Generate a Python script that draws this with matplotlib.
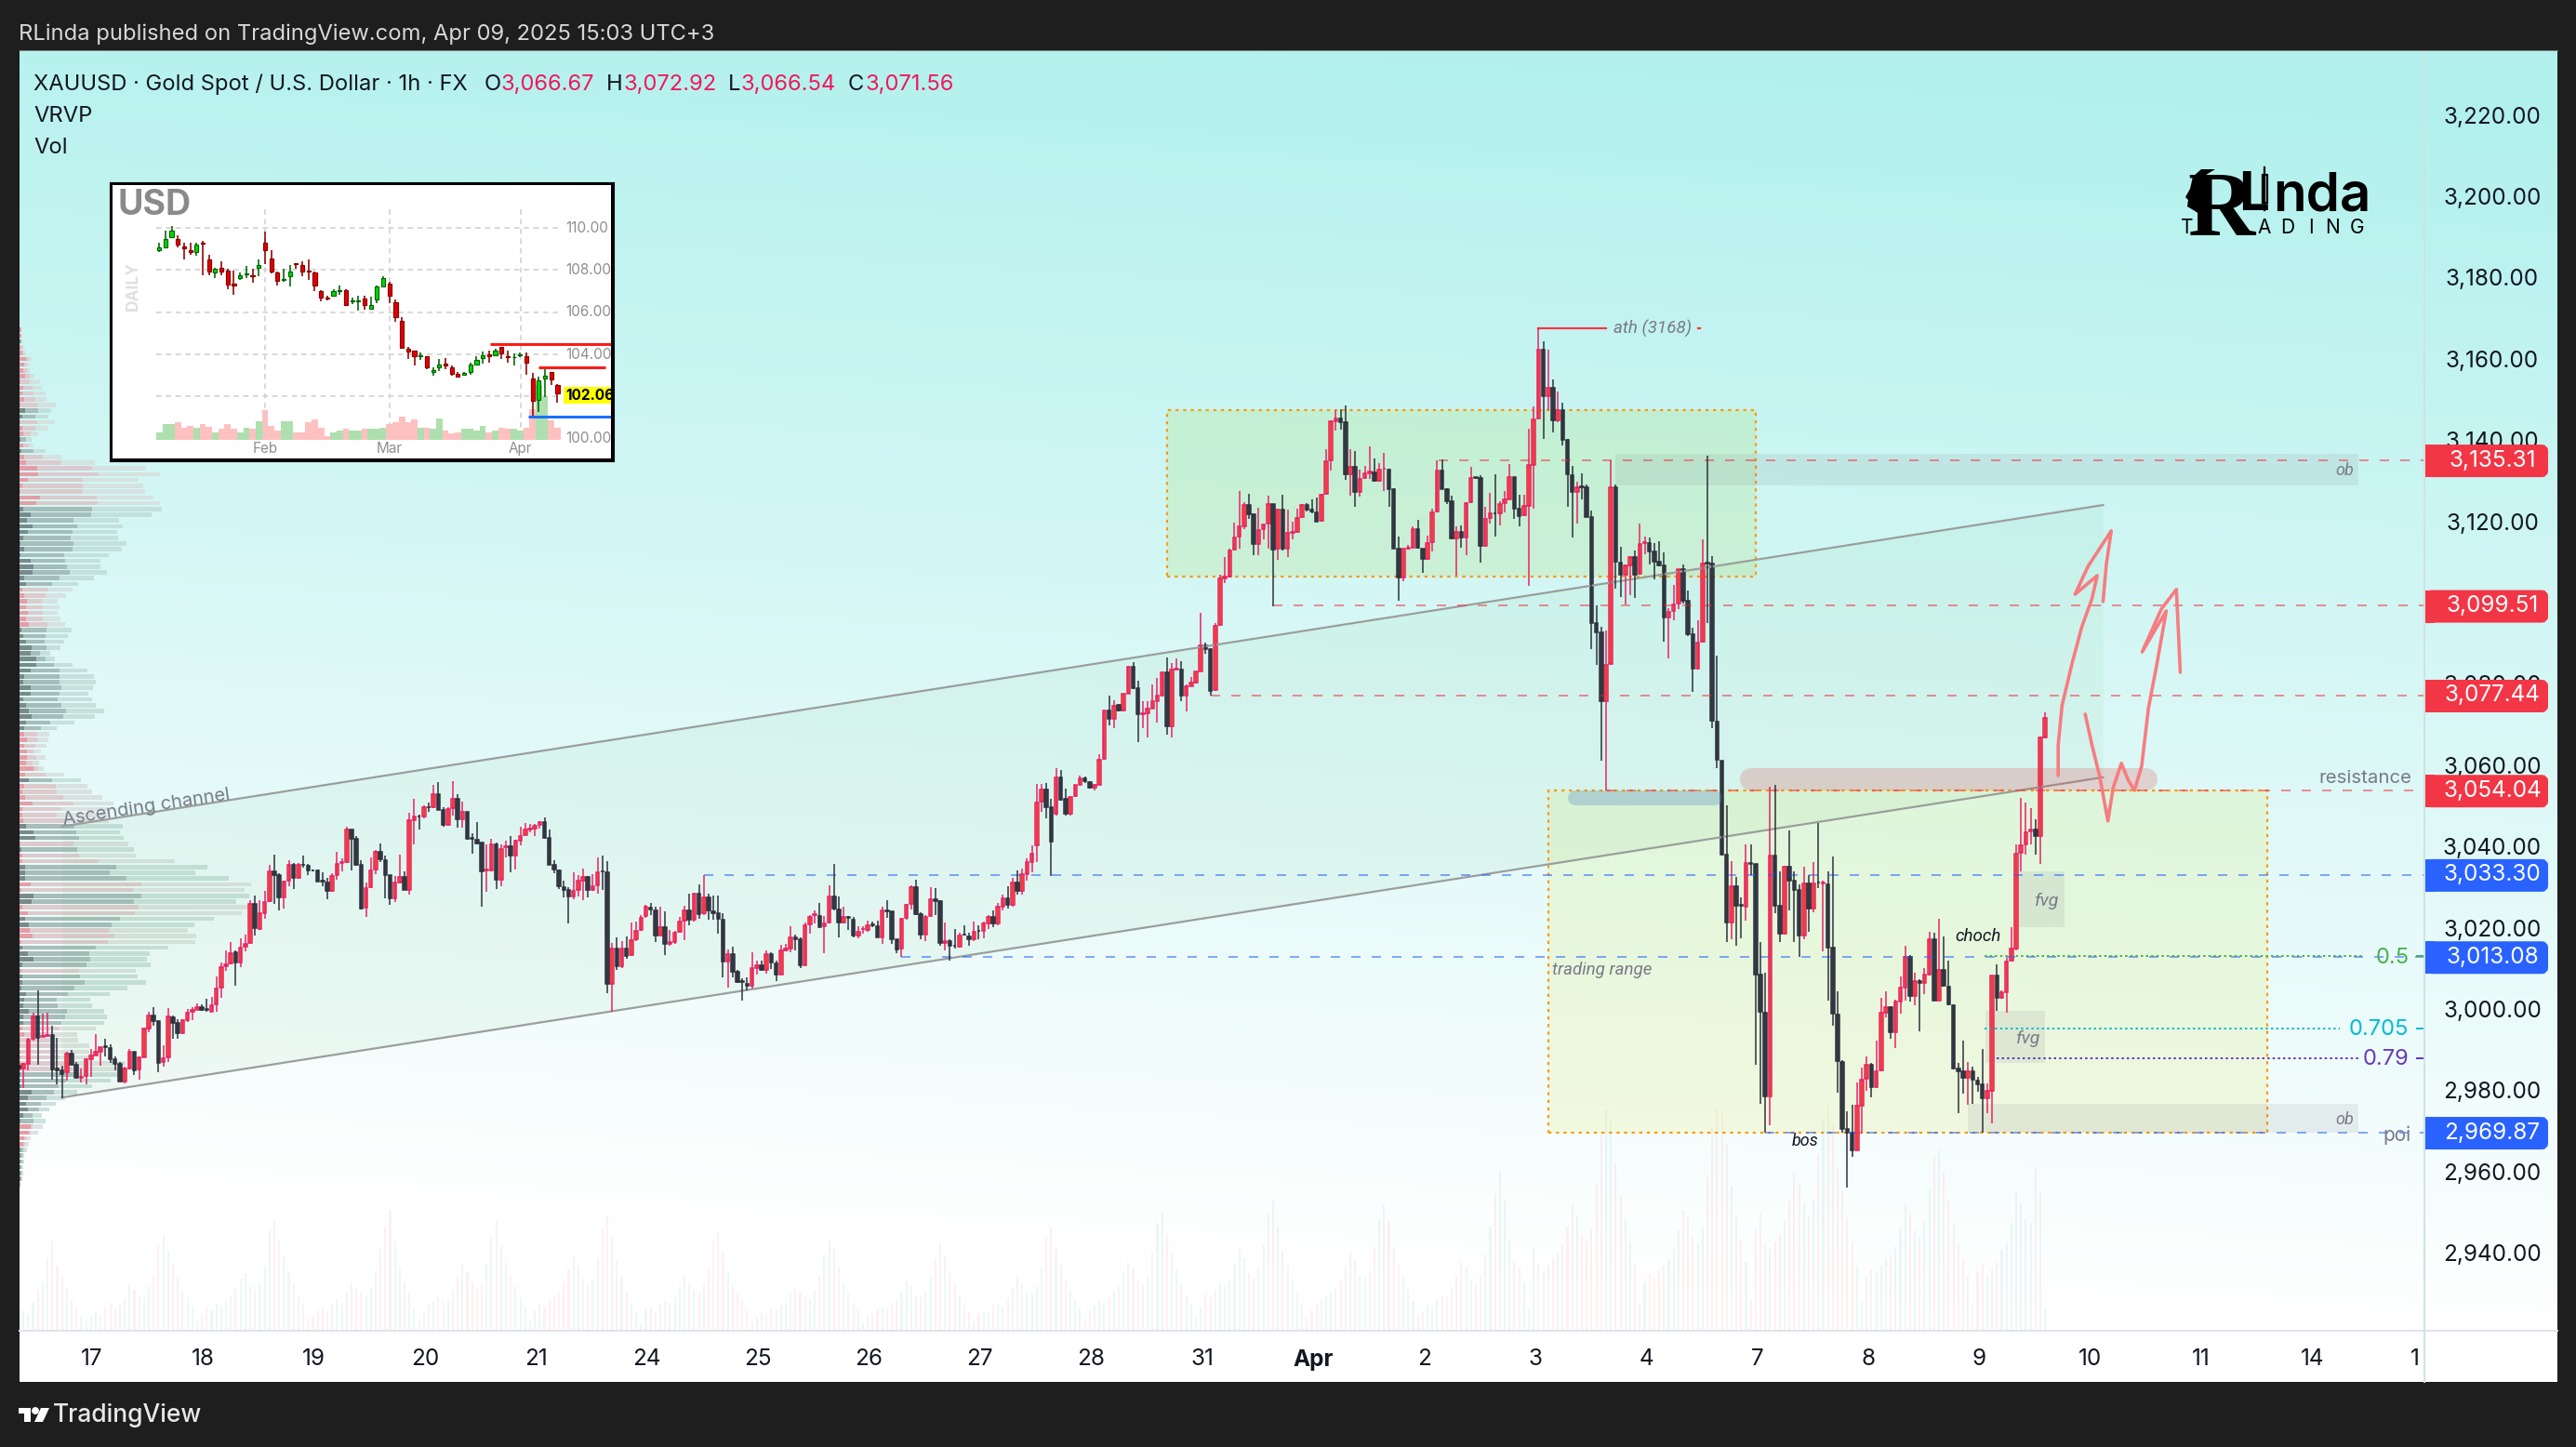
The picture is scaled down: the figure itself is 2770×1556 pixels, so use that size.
import numpy as np
import matplotlib
matplotlib.use("Agg")
import matplotlib.pyplot as plt
from matplotlib.colors import to_rgba
from matplotlib.patches import Rectangle, FancyBboxPatch, Polygon

W, H = 2770, 1556
plt.rcParams["font.family"] = ["Inter", "DejaVu Sans"]

# ── XAUUSD 1h candles ─────────────────────────────────────────────────────────
opens = [
    2985.9,2985.1,2986.4,2992.4,2998.1,2992.9,2993.1,2993.4,2985.1,2984.7,2984.2,2988.8,2986.1,2982.8,2983.4,2987.4,2988.4,2989.2,2990.7,2990.2,
    2987.4,2986.4,2981.9,2985.3,2989.2,2985.0,2988.0,2995.0,2998.3,2996.8,2986.7,2987.9,2997.8,2996.3,2993.9,2997.2,2999.1,2999.6,3000.4,2999.8,
    2999.1,3001.0,3005.2,3010.3,3011.1,3013.8,3011.3,3015.1,3016.1,3025.8,3019.5,3023.5,3026.3,3033.6,3032.7,3027.4,3031.4,3035.2,3032.1,3035.3,
    3035.0,3034.0,3033.9,3031.3,3030.9,3028.8,3032.7,3035.8,3035.9,3043.9,3041.7,3035.2,3024.8,3029.8,3034.2,3038.4,3036.5,3032.7,3027.1,3030.9,
    3032.4,3029.2,3046.3,3047.3,3047.1,3049.6,3049.5,3052.6,3048.9,3045.1,3049.2,3051.6,3046.6,3048.3,3041.9,3041.4,3040.7,3033.9,3033.9,3040.3,3031.7,
    3039.6,3039.9,3037.7,3041.3,3042.7,3044.1,3044.3,3045.1,3045.8,3042.0,3035.2,3034.0,3029.9,3029.1,3027.5,3029.1,3031.5,3032.3,3029.1,3030.3,
    3033.8,3033.4,3005.9,3014.7,3010.3,3014.6,3013.1,3017.0,3019.3,3022.7,3024.8,3024.2,3017.9,3020.0,3015.8,3016.3,3018.9,3021.6,3024.2,3021.8,
    3028.1,3023.3,3027.3,3023.9,3023.3,3021.9,3011.5,3013.4,3009.1,3006.6,3005.9,3005.6,3010.0,3010.6,3009.5,3013.3,3011.1,3008.4,3014.3,3014.6,
    3017.4,3017.1,3010.5,3020.7,3022.9,3022.7,3020.2,3021.1,3027.6,3024.4,3021.1,3022.6,3021.9,3017.9,3019.4,3019.3,3020.7,3020.3,3017.4,3024.1,
    3023.8,3016.9,3014.7,3022.2,3025.6,3029.7,3023.1,3018.1,3022.7,3026.9,3026.3,3016.1,3016.6,3015.5,3015.2,3018.2,3017.6,3016.9,3019.1,3019.0,
    3021.0,3022.5,3021.0,3025.0,3027.0,3025.5,3031.0,3029.0,3033.0,3036.0,
    3040.0,3050.8,3053.9,3049.4,3047.9,3056.9,3051.5,3047.9,3052.2,3055.1,3056.5,3055.7,3054.4,3055.1,3061.4,3073.2,3071.3,3074.6,3073.3,3077.4,
    3084.0,3078.8,3072.3,3072.5,3073.8,3075.5,3076.9,3082.6,3069.4,3083.4,3083.4,3076.9,3079.3,3080.2,3082.9,3089.3,3088.3,3078.3,3094.4,3105.9,
    3106.2,3112.9,3116.0,3118.6,3123.8,3121.5,3114.2,3118.0,3119.2,3124.0,3113.0,3122.7,3113.1,3117.1,3117.3,3120.9,3123.8,3122.7,3122.1,3120.0,
    3126.6,3134.8,3144.5,3145.2,3144.2,3131.4,3133.2,3127.0,3130.4,3131.7,3131.8,3129.9,3132.7,3132.6,3127.8,3113.1,3106.0,3113.1,3113.4,3118.0,
    3113.1,3110.6,3114.8,3122.3,3132.3,3127.8,3124.9,3115.6,3117.3,3115.8,3124.6,3130.7,3130.4,3113.7,3120.6,3121.9,3121.8,3124.3,3125.3,3130.8,
    3122.9,3121.4,3123.6,3133.7,3145.2,
    3162.0,3150.6,3152.8,3144.7,3147.3,3139.8,3131.3,3127.0,3128.5,3128.2,3120.9,3094.7,3092.5,3075.6,3084.7,3128.3,3109.7,3106.8,3109.0,3111.0,
    3107.0,3114.5,3114.6,3112.4,3109.8,3109.1,3096.2,3097.7,3099.5,3108.1,3100.3,3092.0,3083.5,3090.2,3109.7,3109.4,3070.6,3061.0,
    3037.8,3021.1,3030.1,3025.4,3025.0,3035.8,3035.5,3008.2,2999.0,2978.3,3037.5,3025.2,3018.4,3034.9,3031.3,3029.2,3017.9,3030.7,3024.5,3031.0,
    3030.7,3030.6,3014.9,2998.5,2986.9,2970.2,2969.3,2965.0,2976.1,2982.7,2986.0,2980.5,2984.7,2999.0,3000.4,2994.1,3001.7,3005.1,3012.6,3003.0,
    3006.8,3006.3,3008.3,3016.9,3001.9,3009.5,3005.4,3000.8,2985.1,2984.4,2982.8,2984.4,2982.3,2981.2,2977.9,2979.8,3008.0,3002.5,3004.0,3011.7,
    3014.7,3038.2,3040.3,3043.5,3044.0,3042.4,3066.67]
highs = [
    2986.9,2986.6,2992.7,2998.9,3004.4,2998.7,2998.9,2995.6,2992.7,2985.9,2989.4,2989.7,2986.7,2985.3,2987.6,2990.1,2993.7,2990.5,2992.4,2991.2,
    2988.2,2986.9,2985.6,2990.1,2989.2,2988.2,2995.3,2999.1,3000.4,2997.2,2990.9,3000.1,2998.3,2997.3,2997.3,2999.9,3000.2,3001.3,3001.0,3002.4,
    3002.9,3007.8,3011.3,3014.3,3016.4,3014.3,3017.2,3018.2,3026.6,3027.7,3026.5,3028.8,3035.3,3037.8,3033.2,3031.4,3036.5,3035.7,3035.7,3037.6,
    3035.5,3034.2,3034.2,3033.4,3032.1,3033.2,3038.5,3037.0,3044.6,3044.1,3042.4,3036.5,3030.9,3037.2,3039.0,3040.5,3037.6,3032.7,3032.6,3037.8,
    3033.6,3048.1,3051.5,3047.7,3050.0,3050.6,3055.0,3055.7,3049.4,3049.6,3055.9,3052.7,3050.9,3048.3,3043.2,3045.8,3040.8,3040.3,3041.8,3040.7,3040.3,
    3041.2,3042.5,3041.4,3044.6,3045.5,3045.4,3045.4,3046.0,3047.0,3044.0,3036.4,3034.2,3031.4,3029.8,3033.5,3032.8,3034.4,3032.6,3033.0,3037.1,
    3037.6,3036.2,3016.1,3017.4,3016.5,3017.7,3021.1,3021.3,3022.9,3025.4,3025.9,3025.0,3025.0,3023.9,3019.3,3019.1,3022.5,3025.2,3028.2,3028.5,
    3030.6,3032.8,3028.1,3027.7,3027.8,3023.4,3014.5,3015.1,3009.5,3007.3,3007.6,3013.9,3011.7,3011.7,3014.2,3013.9,3011.7,3015.6,3015.8,3020.3,
    3018.1,3017.4,3021.2,3022.9,3024.2,3025.9,3022.7,3030.3,3035.5,3027.5,3025.0,3022.7,3022.5,3020.2,3020.2,3021.6,3021.3,3021.6,3025.0,3026.5,
    3023.9,3017.0,3022.2,3025.7,3030.3,3031.6,3023.6,3022.9,3029.7,3029.5,3026.5,3021.1,3016.9,3019.5,3018.5,3020.4,3018.7,3021.3,3020.4,3021.4,
    3023.0,3024.0,3026.0,3028.0,3030.0,3032.0,3034.0,3034.5,3037.0,3040.0,
    3055.2,3055.2,3055.5,3051.5,3059.1,3058.6,3054.0,3052.2,3055.1,3057.2,3057.1,3055.9,3055.3,3062.6,3073.2,3076.9,3075.9,3075.0,3077.4,3084.3,
    3085.3,3080.7,3075.6,3075.6,3079.6,3081.2,3082.9,3086.3,3085.0,3086.0,3085.4,3079.6,3081.5,3083.0,3097.3,3090.1,3088.6,3094.7,3106.6,3111.0,
    3113.0,3119.5,3127.2,3124.6,3126.6,3121.7,3123.2,3119.4,3126.1,3124.1,3123.0,3126.5,3122.7,3119.8,3122.9,3124.2,3124.3,3125.2,3125.7,3126.7,
    3137.5,3144.8,3147.1,3147.4,3148.4,3137.5,3137.1,3132.6,3133.5,3138.4,3135.2,3134.1,3136.6,3132.9,3127.9,3116.2,3113.1,3114.0,3118.5,3120.1,
    3113.1,3116.3,3123.0,3134.9,3135.0,3128.0,3126.1,3118.6,3118.8,3124.6,3133.3,3130.8,3131.3,3123.4,3126.9,3131.4,3124.7,3127.2,3133.9,3130.8,
    3126.5,3126.5,3142.6,3148.2,3167.4,
    3164.2,3162.2,3154.7,3151.7,3149.1,3140.2,3133.4,3129.7,3131.6,3128.8,3122.4,3099.2,3094.0,3092.9,3134.8,3128.8,3113.5,3109.3,3111.2,3112.7,
    3119.2,3116.0,3115.8,3114.4,3115.0,3112.3,3098.4,3104.3,3108.1,3109.3,3102.8,3093.7,3095.4,3115.5,3136.1,3111.2,3086.7,3061.0,
    3050.0,3036.2,3032.3,3027.3,3040.3,3040.3,3035.5,3016.2,3008.8,3054.5,3055.1,3033.6,3035.1,3043.7,3033.6,3030.4,3034.9,3032.8,3035.9,3045.6,
    3031.3,3033.6,3037.4,3004.2,2987.3,2974.7,2976.2,2981.7,2985.4,2988.2,2986.6,2992.0,3002.5,3004.2,3000.5,3002.1,3007.9,3015.3,3013.2,3008.8,
    3007.1,3009.8,3018.9,3018.7,3022.0,3017.6,3011.7,3001.0,2986.6,2992.0,2986.9,2985.7,2983.1,2990.1,2981.5,3008.0,3010.8,3004.4,3012.4,3019.9,
    3040.3,3051.7,3050.6,3049.2,3046.5,3067.0,3072.92]
lows = [
    2980.8,2980.4,2984.8,2992.1,2986.1,2992.9,2992.9,2982.5,2981.3,2977.9,2982.3,2986.1,2982.8,2981.8,2981.3,2983.1,2988.4,2985.9,2988.2,2986.5,
    2984.8,2981.9,2981.5,2985.0,2983.6,2982.5,2987.9,2994.0,2995.8,2984.3,2985.6,2986.7,2992.4,2992.6,2993.7,2996.6,2997.2,2999.5,2999.3,2999.1,
    2999.1,2999.1,3002.5,3009.2,3010.9,3005.6,3010.1,3014.1,3015.9,3017.8,3019.2,3022.0,3026.2,3025.8,3024.2,3024.6,3030.0,3029.4,3031.9,3034.7,
    3032.9,3033.8,3031.1,3030.0,3026.9,3028.6,3031.7,3033.8,3035.7,3033.9,3035.0,3024.3,3022.4,3029.6,3033.0,3035.9,3027.1,3025.4,3026.2,3030.8,
    3029.1,3027.9,3040.3,3043.9,3046.8,3048.3,3049.2,3048.7,3044.6,3045.0,3047.5,3044.5,3044.5,3041.4,3038.1,3040.3,3025.0,3028.7,3033.6,3029.4,3030.1,
    3037.1,3033.5,3034.2,3040.2,3042.5,3043.4,3042.5,3044.3,3041.7,3035.2,3033.3,3029.4,3027.4,3021.0,3026.9,3027.6,3026.7,3027.2,3028.9,3028.3,
    3029.2,3003.8,2999.1,3009.5,3010.0,3012.3,3012.9,3016.6,3019.1,3022.3,3022.9,3016.4,3017.8,3013.2,3015.3,3015.9,3018.6,3016.8,3020.5,3021.4,
    3022.0,3022.9,3021.9,3021.9,3018.4,3007.5,3005.2,3007.5,3006.3,3002.0,3004.4,3004.9,3008.4,3009.2,3008.6,3009.7,3006.7,3008.3,3014.1,3013.8,
    3014.3,3009.9,3010.3,3018.4,3020.8,3019.9,3013.6,3020.8,3024.2,3017.5,3021.0,3019.3,3017.4,3017.3,3018.4,3018.9,3019.9,3017.4,3015.8,3022.3,
    3015.8,3013.6,3012.7,3021.8,3024.3,3022.9,3017.0,3016.6,3022.5,3022.9,3015.3,3014.2,3011.8,3014.7,3014.9,3017.8,3015.3,3016.6,3017.0,3017.2,
    3019.5,3020.0,3020.5,3024.0,3024.5,3025.0,3028.0,3028.0,3031.5,3033.5,
    3036.0,3048.3,3046.8,3032.6,3047.4,3051.2,3047.4,3047.4,3052.1,3055.1,3055.4,3054.0,3053.5,3055.0,3061.2,3069.6,3069.0,3073.1,3073.1,3077.3,
    3078.6,3065.6,3069.0,3066.7,3073.7,3070.4,3076.7,3067.4,3066.7,3083.2,3075.6,3073.1,3079.2,3080.0,3082.8,3087.2,3076.9,3078.2,3094.2,3104.6,
    3106.1,3112.7,3113.0,3118.0,3120.4,3111.4,3111.6,3115.4,3113.1,3099.0,3110.4,3112.7,3111.0,3115.3,3117.1,3120.7,3122.3,3121.9,3119.7,3119.8,
    3126.4,3132.3,3142.1,3142.3,3130.1,3126.1,3123.5,3125.9,3130.3,3130.3,3129.5,3129.7,3127.2,3123.3,3113.0,3100.4,3105.1,3112.9,3113.1,3113.1,
    3107.2,3110.4,3112.4,3122.1,3127.8,3124.0,3115.4,3106.5,3113.3,3111.4,3124.4,3130.3,3109.7,3113.6,3119.2,3116.2,3118.8,3122.1,3125.2,3120.4,
    3118.5,3121.1,3104.0,3122.9,3145.0,
    3140.2,3147.2,3141.7,3144.2,3138.6,3123.5,3115.9,3119.3,3125.3,3120.9,3088.5,3084.6,3061.0,3053.6,3084.5,3103.3,3101.3,3099.4,3101.7,3101.0,
    3106.8,3111.7,3109.3,3105.5,3108.7,3090.2,3086.2,3095.5,3098.2,3099.7,3091.6,3077.9,3083.4,3090.1,3094.8,3068.9,3059.0,3037.6,
    3016.4,3017.0,3015.3,3017.2,3021.6,3032.9,2986.1,2976.6,2969.5,2971.2,3023.5,3016.4,3018.2,3024.1,3016.2,3012.7,3017.0,3018.9,3023.7,3029.6,
    3014.1,3001.8,2995.8,2979.2,2969.5,2955.8,2963.5,2965.0,2969.1,2979.6,2978.1,2980.4,2984.6,2997.8,2992.4,2990.3,2998.7,3001.8,3001.6,3000.8,
    2994.4,3003.6,3008.1,3001.8,3001.8,3005.4,3000.8,2985.0,2974.1,2978.9,2976.2,2976.6,2979.5,2969.5,2974.3,2971.6,2999.3,3002.4,2998.9,3011.5,
    3014.3,3033.6,3037.8,3040.3,3037.8,3035.5,3066.54]
closes = [
    2985.1,2986.4,2992.2,2998.1,2992.7,2993.1,2993.5,2985.0,2984.8,2983.9,2988.8,2986.1,2982.8,2983.2,2987.4,2988.5,2989.2,2990.5,2990.5,2987.5,
    2986.4,2981.9,2985.3,2989.2,2984.8,2987.9,2995.0,2998.3,2996.8,2986.5,2987.8,2997.9,2996.4,2993.9,2997.2,2998.9,2999.6,3000.4,2999.6,2999.5,
    3000.8,3004.9,3010.1,3010.9,3013.6,3011.3,3014.9,3015.9,3025.8,3019.7,3023.5,3026.2,3033.6,3032.8,3027.4,3031.1,3035.2,3032.1,3035.2,3035.2,
    3033.9,3033.9,3031.2,3031.1,3028.8,3032.6,3035.6,3035.9,3043.9,3041.7,3035.2,3024.6,3029.6,3033.9,3038.4,3036.7,3032.8,3027.1,3030.9,3032.4,
    3029.1,3046.2,3047.3,3047.2,3049.4,3049.4,3052.6,3048.9,3045.1,3049.1,3051.6,3046.5,3048.3,3041.7,3041.7,3040.5,3033.6,3034.2,3040.3,3031.7,3039.3,
    3039.9,3037.7,3041.2,3042.5,3043.9,3044.3,3044.9,3045.8,3042.0,3035.3,3034.1,3030.0,3029.2,3027.5,3028.9,3031.3,3032.3,3029.1,3030.1,3033.5,
    3033.6,3005.9,3014.7,3010.3,3014.6,3012.9,3016.8,3019.1,3022.3,3024.9,3024.3,3017.9,3020.0,3015.8,3016.2,3018.7,3021.4,3024.2,3021.9,3028.1,
    3023.1,3027.3,3024.0,3023.3,3022.0,3011.5,3013.4,3009.1,3006.5,3006.5,3005.6,3009.9,3010.6,3009.4,3013.3,3011.3,3008.4,3014.3,3014.6,3017.4,
    3017.1,3010.5,3020.5,3022.6,3023.1,3020.0,3020.8,3027.6,3024.5,3021.1,3022.6,3022.2,3017.8,3018.8,3019.6,3020.4,3020.5,3017.4,3024.1,3023.9,
    3017.0,3014.5,3022.0,3025.4,3029.7,3023.2,3018.1,3022.6,3026.9,3026.3,3016.1,3016.6,3015.3,3015.3,3017.9,3018.1,3016.9,3018.8,3019.0,3021.0,
    3022.5,3021.0,3025.0,3027.0,3025.5,3031.0,3029.0,3033.0,3036.0,3038.0,
    3050.7,3053.9,3049.4,3041.0,3056.9,3051.3,3047.9,3052.1,3055.0,3056.5,3055.8,3054.2,3055.0,3061.2,3073.2,3071.2,3074.4,3073.2,3077.3,3084.0,
    3078.8,3072.3,3072.5,3073.8,3075.5,3076.9,3082.6,3069.3,3083.4,3083.5,3076.9,3079.2,3080.2,3082.8,3089.3,3088.3,3078.2,3094.2,3105.9,3106.2,
    3112.7,3115.9,3118.5,3123.8,3121.5,3114.2,3117.8,3119.1,3124.0,3112.8,3122.7,3113.0,3116.9,3117.2,3120.7,3123.8,3122.8,3122.3,3119.8,3126.5,
    3134.6,3144.4,3145.2,3144.2,3131.4,3133.2,3127.0,3130.3,3131.6,3132.0,3129.9,3132.6,3132.8,3127.8,3113.1,3106.1,3113.0,3113.3,3118.0,3113.3,
    3110.6,3114.6,3122.1,3132.3,3127.8,3124.9,3115.6,3117.3,3115.8,3124.4,3130.5,3130.4,3113.7,3120.5,3121.7,3121.7,3124.2,3125.2,3130.8,3122.9,
    3121.2,3123.6,3133.6,3145.0,3162.0,
    3150.6,3152.6,3144.7,3147.3,3139.8,3131.4,3127.0,3128.2,3128.3,3121.0,3094.8,3092.5,3075.6,3084.5,3128.3,3109.8,3106.8,3108.9,3111.0,3106.8,
    3114.2,3114.8,3112.4,3109.8,3108.9,3096.2,3097.5,3099.4,3108.1,3100.3,3092.0,3083.5,3090.1,3109.4,3109.5,3070.8,3061.1,3037.8,
    3021.1,3030.1,3025.2,3025.2,3035.7,3035.6,3008.2,2999.1,2978.3,3037.5,3025.2,3018.4,3034.9,3031.3,3029.2,3017.9,3030.7,3024.5,3030.7,3030.9,
    3030.9,3014.9,2998.7,2987.0,2970.3,2969.3,2965.0,2976.0,2982.5,2986.0,2980.5,2984.6,2998.9,3000.4,2994.1,3001.6,3005.0,3012.6,3003.0,3006.7,
    3006.2,3008.2,3016.9,3001.9,3009.5,3005.6,3001.0,2985.1,2984.5,2982.8,2984.4,2982.5,2981.3,2977.9,2979.6,3008.0,3002.5,3003.9,3011.5,3014.6,
    3038.1,3040.2,3043.3,3043.9,3042.4,3066.6,3071.56]
volumes = [
    28,22,18,30,44,52,78,96,70,58,46,32,24,16,12,
    14,20,16,26,30,24,28,34,50,44,38,36,48,60,92,104,86,72,58,44,36,26,10,
    18,26,22,30,26,32,38,44,56,62,48,44,52,70,108,120,98,80,64,50,38,28,12,
    16,22,24,20,28,34,30,42,52,46,40,38,46,64,88,112,130,96,68,52,40,24,10,
    20,28,32,36,30,34,44,58,72,64,52,46,50,72,100,118,92,74,60,48,36,26,12,
    22,30,26,32,38,40,52,66,80,70,56,48,54,78,110,124,100,76,58,42,30,20,8,
    24,26,20,28,32,30,36,48,60,52,44,40,50,66,96,106,84,64,48,40,32,22,10,
    14,20,18,24,22,28,30,40,46,42,36,34,44,58,82,98,90,68,52,42,30,22,8,
    16,18,22,26,24,30,34,42,54,48,38,36,42,60,78,94,80,62,50,38,28,20,10,
    18,22,20,28,30,26,34,46,58,50,42,40,48,68,102,112,88,70,56,44,34,24,12,
    22,28,34,30,36,42,48,62,74,66,54,50,58,84,116,128,104,82,66,50,38,28,14,
    26,40,36,44,52,48,56,72,88,78,62,56,66,92,126,140,112,86,70,56,42,30,14,
    22,30,34,38,42,46,54,70,84,76,60,58,64,90,120,136,118,90,72,58,44,32,16,
    20,28,26,34,38,36,46,60,74,68,54,50,60,82,112,148,172,140,98,74,68,52,24,
    90,72,64,70,78,84,92,112,136,124,104,96,110,158,214,238,226,180,146,120,96,72,30,
    52,60,56,64,70,76,88,108,130,122,102,94,112,166,218,240,236,200,156,122,98,74,34,
    110,126,92,88,96,104,118,140,170,158,136,124,140,190,226,242,222,176,150,122,96,70,32,
    58,66,62,70,78,82,90,110,136,126,108,100,118,152,188,194,170,140,116,94,78,58,28,
    64,72,60,66,74,88,96,116,150,138,120,116,176,150,24]

# ── VRVP rows, top to bottom: kind + three cumulative widths ──────────────────
vp_rows = (
    "p5 5 5,p5 5 5,g2 6 8,p3 9 15,p9 12 21,p21 30 39,p15 24 33,p12 24 33,p18 33 48,p3 33 66,p12 42 72,p9 45 84,p15 51 87,p3 60 117,"
    "g18 60 102,g9 51 93,p3 57 114,p9 51 93,p12 36 60,g3 21 39,p12 30 45,g6 45 84,p15 75 135,p21 132 243,p57 234 408,p60 255 453,"
    "p27 204 381,p9 204 399,p3 204 405,p66 249 432,p54 252 453,g12 234 459,g36 231 426,g24 174 321,g42 186 333,g27 171 315,g12 165 318,"
    "g3 174 345,g15 171 330,g3 144 288,g36 147 261,g45 153 261,g42 162 282,g15 129 240,g21 105 189,p9 90 171,p15 84 150,p24 72 123,"
    "p21 75 129,p27 75 123,p21 75 132,p30 90 147,g6 87 168,g12 84 156,g21 81 144,g39 87 132,g36 66 99,g54 84 114,g54 111 171,g36 129 219,"
    "g15 129 240,g12 129 246,g36 135 237,g36 129 222,g12 123 234,g21 135 246,g30 150 273,g39 141 243,g21 99 177,g15 69 120,p15 57 96,"
    "p24 57 93,p15 51 87,p24 45 69,p24 54 84,p21 42 63,p45 60 78,p18 84 144,g30 105 198,p15 117 219,p9 120 234,p18 141 267,p42 174 303,"
    "p9 135 282,p9 120 282,p12 150 288,g21 177 333,g45 183 324,g51 192 336,p3 174 351,g6 186 369,p9 192 375,p9 255 501,g18 312 606,"
    "g18 291 567,g18 345 675,p36 393 747,p6 366 726,g45 393 741,g39 369 699,p9 384 741,p27 372 717,g18 324 627,g30 297 564,p33 288 543,"
    "p42 306 570,p6 285 567,g9 246 480,g27 225 420,g45 228 411,g9 216 423,p6 192 375,g9 195 381,g9 210 408,g6 177 348,g21 156 291,"
    "g15 120 228,g12 123 234,g30 153 273,g12 147 282,g12 135 273,p9 129 246,p15 90 186,p3 96 189,p3 120 225,p3 120 225,p3 130 240,"
    "p3 180 342,p6 170 318,g3 174 321,g3 150 294,g6 126 234,g39 111 186,g27 87 147,g21 69 117,g27 63 96,g12 42 72,g3 45 84,p36 42 75,"
    "p30 36 60,p15 24 36,p12 18 30,g3 12 24,g3 9 15,g3 9 15,g3 6 12,g3 6 12,g3 6 9,p2 3 3"
)
vp_kind = [r[0] for r in vp_rows.split(",")]
vp_dark = [int(r[1:].split()[0]) for r in vp_rows.split(",")]
vp_mid = [int(r.split()[1]) for r in vp_rows.split(",")]
vp_light = [int(r.split()[2]) for r in vp_rows.split(",")]

# ── USD inset (daily) ─────────────────────────────────────────────────────────
usd_up = [1,1,1,0,0,0,1,0,0,1,0,0,0,1,1,0,1,0,0,0,1,1,0,0,0,0,0,0,1,1,0,1,1,0,1,1,1,0,0,0,0,0,1,0,1,1,0,0,0,1,1,1,1,0,1,0,0,1,1,0,0,1,1,0,0]
usd_top = [109.07,109.49,109.85,109.49,109.13,108.93,109.19,109.31,108.49,108.04,108.09,107.97,107.37,107.75,107.82,107.75,108.25,109.28,108.53,107.87,
           107.57,107.94,108.31,108.24,107.96,107.87,107.02,106.69,106.99,107.05,107.06,106.55,106.55,106.66,106.33,107.21,107.60,107.35,106.47,105.58,
           104.27,104.19,103.96,103.90,103.24,103.53,103.55,103.37,103.08,103.11,103.53,103.75,103.97,103.99,104.19,104.34,103.93,103.88,104.00,103.93,
           102.87,102.78,102.99,103.16,102.55]
usd_bot = [108.93,109.07,109.54,109.19,109.02,108.87,108.87,109.25,107.93,107.87,107.94,107.32,107.25,107.60,107.78,107.71,108.09,108.96,107.93,107.50,
           107.55,107.72,108.28,107.94,107.93,107.25,106.69,106.65,106.78,107.02,106.34,106.52,106.52,106.34,106.18,106.59,107.22,106.77,105.78,104.31,
           104.12,103.90,103.93,103.38,103.16,103.37,103.49,103.08,102.93,103.02,103.16,103.53,103.83,103.93,103.97,104.05,103.86,103.86,103.96,103.61,
           101.81,101.84,102.87,102.81,102.14]
usd_high = [109.29,109.85,110.10,109.66,109.29,109.29,109.29,109.37,108.71,108.09,108.41,108.04,107.99,107.90,108.19,108.04,108.49,109.81,108.93,107.94,
            108.04,108.25,108.34,108.41,108.49,107.94,107.06,106.77,107.09,107.28,107.10,106.69,106.77,106.77,106.72,107.28,107.69,107.46,106.62,105.77,
            104.37,104.19,104.08,103.93,103.40,103.78,103.84,103.46,103.16,103.16,103.63,103.90,104.12,104.19,104.27,104.37,104.19,104.05,104.09,104.08,
            103.13,102.93,103.34,103.19,102.61]
usd_low = [108.87,109.02,109.54,109.07,108.49,108.72,108.69,107.75,107.75,107.60,107.75,107.10,106.81,107.55,107.60,107.40,107.69,108.28,107.84,107.25,
           107.46,107.24,108.04,107.69,107.55,107.02,106.52,106.57,106.75,106.81,106.31,106.37,106.08,106.13,106.13,106.43,107.19,106.43,105.56,104.25,
           103.80,103.49,103.72,103.31,102.99,103.22,103.31,102.99,102.90,102.99,103.05,103.49,103.56,103.63,103.90,103.78,103.63,103.49,103.87,103.05,
           101.08,101.28,101.96,102.55,101.72]
usd_vol = [8,17,17,19,13,15,13,17,14,8,12,17,12,8,13,12,20,32,15,10,20,20,8,8,19,22,13,4,8,10,12,10,10,12,12,12,13,17,19,25,19,22,13,13,12,23,10,7,8,12,12,10,15,8,10,13,12,12,10,13,33,59,47,21,13]
usd_ticks = [110, 108, 106, 104, 102, 100]
usd_months = ["Feb", "Mar", "Apr"]
usd_month_pos = [17.0, 37.06, 58.07]

# ── axis labels and levels ────────────────────────────────────────────────────
price_ticks = list(range(2940, 3221, 20))
day_labels = ["17","18","19","20","21","24","25","26","27","28","31","Apr","2","3","4","7","8","9","10","11","14","1"]
red_levels = [3135.31, 3099.51, 3077.44, 3054.04]
red_starts = [294.4, 260, 247, 329]
blue_levels = [3033.30, 3013.08, 2969.87]
blue_starts = [142, 183, 362]
fib_prices = [3013.3, 2995.4, 2988.2]
arrow1_x = [422.7,422.7,423.5,425.6,427.6,429.7,430.8,426.2,428.9,433.7,432.7,432.0]
arrow1_y = [3057.3,3064.8,3074.5,3085.0,3093.9,3100.8,3106.5,3101.9,3108.8,3117.5,3109.5,3100.1]
arrow2_x = [428.3,429.7,431.3,433.0,434.1,435.8,437.2,438.5,440.0,441.4,443.2,445.1,440.1,444.1,447.2,448.0]
arrow2_y = [3072.4,3064.8,3057.1,3046.1,3054.3,3060.3,3056.2,3053.6,3059.6,3073.8,3085.0,3097.8,3087.7,3098.3,3103.1,3082.7]

READ_SHIFT = 0.45  # candles were read on a scale 2 px off the level tags
opens = np.array(opens) + READ_SHIFT
highs = np.array(highs) + READ_SHIFT
lows = np.array(lows) + READ_SHIFT
closes = np.array(closes) + READ_SHIFT
volumes = np.array(volumes[:len(opens)], dtype=float)
idx = np.arange(len(opens))

# ── figure + chart geometry (pixels) ──────────────────────────────────────────
fig = plt.figure(figsize=(W / 100, H / 100), dpi=100, facecolor="#1e1e1e")
px = 0.72  # one pixel in points


def rect(x0, y0, x1, y1):
    return [x0 / W, 1 - y1 / H, (x1 - x0) / W, (y1 - y0) / H]


# background gradient over chart + price axis
bg = fig.add_axes(rect(21, 55, 2750, 1486), zorder=0)
yy, xx = np.mgrid[55:1486:4, 21:2750:4]
t = np.clip(((yy - 55) - 0.06 * (xx - 1385)) / 1300, 0, 1)[..., None]
top_col = np.array([0.70, 0.945, 0.93])
bg.imshow(top_col * (1 - t) + t, aspect="auto", interpolation="bilinear")
bg.axis("off")

CHART = rect(21, 55, 2607, 1431)
XLIM = (0.2, 498.6)
YLIM = (2921.1, 3236.0)


def over(zorder):
    a = fig.add_axes(CHART, zorder=zorder)
    a.patch.set_alpha(0)
    a.axis("off")
    return a


# volume histogram
ax_vol = over(1)
ax_vol.set_xlim(*XLIM)
ax_vol.set_ylim(0, 1376)
vol_cols = [to_rgba("#089981", 0.07) if c >= o else to_rgba("#f23645", 0.07) for o, c in zip(opens, closes)]
ax_vol.bar(idx, volumes, width=0.4, color=vol_cols, linewidth=0)

# visible range volume profile
ax_vp = over(2)
ax_vp.set_xlim(0, 2586 * 3)
ax_vp.set_ylim(*YLIM)
vp_price = 3167.4 - np.arange(len(vp_kind)) * 1.421
vp_cols = {"p": ["#d6dddc", "#dfc6ca", "#e8939c"], "g": ["#c0dbd6", "#9fb6b3", "#6e7e7e"]}
for row, vals in enumerate(zip(vp_light, vp_mid, vp_dark)):
    for v, col in zip(vals, vp_cols[vp_kind[row]]):
        ax_vp.barh(vp_price[row], v, height=1.05, color=col, alpha=0.8, linewidth=0)

# main price pane
ax = over(3)
ax.set_xlim(*XLIM)
ax.set_ylim(*YLIM)

# ascending channel
chan_x = np.array([9, 432])
chan_top = np.array([3045.2, 3124.3])
chan_bot = np.array([2978.5, 3057.3])
ax.fill_between(chan_x, chan_bot, chan_top, color="#4caf50", alpha=0.055, linewidth=0)
ax.plot(chan_x, chan_top, color="#9a9e9c", lw=2.2 * px)
ax.plot(chan_x, chan_bot, color="#9a9e9c", lw=2.2 * px)

# boxes
DOTS = (0, (1.5, 2.2))
for x0, x1, p0, p1, col, alpha in [(238, 360, 3106.6, 3147.6, "#a5d63a", 0.16), (317, 466, 2969.87, 3054.04, "#dde84a", 0.16)]:
    ax.add_patch(Rectangle((x0, p0), x1 - x0, p1 - p0, facecolor=to_rgba(col, alpha), edgecolor="none"))
    ax.add_patch(Rectangle((x0, p0), x1 - x0, p1 - p0, fill=False, edgecolor="#ff9800", lw=2.2 * px, linestyle=DOTS))
for x0, x1, p0, p1 in [(331, 485, 3129.2, 3137.0), (404, 485, 2969.87, 2976.9),
                       (413.5, 424, 3020.4, 3034.2), (407.7, 420, 2986.9, 2999.9)]:
    ax.add_patch(Rectangle((x0, p0), x1 - x0, p1 - p0, facecolor=to_rgba("#787b86", 0.12), edgecolor="none"))

# marker bars
ax.plot([359, 441], [3056.8, 3056.8], color="#e53935", alpha=0.2, lw=24 * px, solid_capstyle="round")
ax.plot([322.7, 351.6], [3052.3, 3052.3], color="#5c8fd0", alpha=0.32, lw=16 * px, solid_capstyle="round")

# levels
DASH = (0, (5, 6))
for lev, s in zip(red_levels, red_starts):
    ax.plot([s, XLIM[1]], [lev, lev], color="#f23645", alpha=0.55, lw=2 * px, linestyle=DASH)
for lev, s in zip(blue_levels, blue_starts):
    ax.plot([s, XLIM[1]], [lev, lev], color="#2962ff", alpha=0.55, lw=2 * px, linestyle=DASH)
for lev, s, e, col in zip(fib_prices, [407.5, 407.5, 410], [486, 481, 485], ["#4caf50", "#00bcd4", "#673ab7"]):
    ax.plot([s, e], [lev, lev], color=col, lw=2 * px, linestyle=(0, (1.2, 1.6)))
    ax.plot([497, 498.5], [lev, lev], color=col, lw=2 * px)
ax.plot([315, 329], [3167.9, 3167.9], color="#f23645", lw=2.2 * px)
ax.plot([348, 348.4], [3167.9, 3167.9], color="#f23645", lw=2.2 * px)

# candles
up = closes >= opens
UP_EDGE, UP_FACE = "#e91e63", "#ff9800"
DN_EDGE, DN_FACE = "#2a2e39", "#50535e"
ax.vlines(idx[up], lows[up], highs[up], color=UP_EDGE, lw=1.5 * px)
ax.vlines(idx[~up], lows[~up], highs[~up], color=DN_EDGE, lw=1.5 * px)
ax.bar(idx[up], (closes - opens)[up], bottom=opens[up], width=0.68, facecolor=UP_FACE, edgecolor=UP_EDGE, linewidth=1.5 * px)
ax.bar(idx[~up], (opens - closes)[~up], bottom=closes[~up], width=0.68, facecolor=DN_FACE, edgecolor=DN_EDGE, linewidth=1.5 * px)

# hand drawn arrows
for xs, ys in [(arrow1_x, arrow1_y), (arrow2_x, arrow2_y)]:
    ax.plot(xs, np.array(ys) + READ_SHIFT, color="#f77c80", lw=3.6 * px, solid_joinstyle="round", solid_capstyle="round")

# ── overlay in pixel coordinates: frame, labels, tags ─────────────────────────
ov = fig.add_axes([0, 0, 1, 1], zorder=5)
ov.set_xlim(0, W)
ov.set_ylim(H, 0)
ov.patch.set_alpha(0)
ov.axis("off")

ov.add_patch(Rectangle((21, 1431), 2729, 55, facecolor="white", edgecolor="none"))
ov.plot([21, 2750], [1431, 1431], color="#e0e3eb", lw=2 * px)
ov.plot([2607, 2607], [55, 1486], color="#cfe3e1", lw=2 * px)
ov.plot([21, 2750], [54, 54], color="#7a7a7a", lw=1 * px)

SIZE = 17.5
DARK = "#131722"


def y_of(p):
    return 125 + (3220 - p) * 4.37


for p in price_ticks:
    ov.text(2680, y_of(p) + 1, f"{p:,.2f}", ha="center", va="center", fontsize=SIZE, color=DARK, zorder=3)
for k, lab in enumerate(day_labels):
    xp = 22 + (14.8 + 23 * k) * 5.19 - (9 if k == len(day_labels) - 1 else 0)
    ov.text(xp, 1462, lab, ha="center", va="center", fontsize=SIZE, color=DARK,
            fontweight="bold" if lab == "Apr" else "normal")

for lev, col in [(l, "#f23645") for l in red_levels] + [(l, "#2962ff") for l in blue_levels]:
    yc = y_of(lev)
    ov.add_patch(FancyBboxPatch((2612, yc - 13), 124, 27, boxstyle="round,pad=0,rounding_size=3", mutation_aspect=1,
                                facecolor=col, edgecolor=col, lw=8 * px, zorder=4))
    ov.add_patch(Rectangle((2608, yc - 17), 10, 35, facecolor=col, edgecolor="none", zorder=4))
    ov.text(2680, yc, f"{lev:,.2f}", ha="center", va="center", fontsize=SIZE, color="white", zorder=5)

# header and legend
ov.text(20, 37, "RLinda published on TradingView.com, Apr 09, 2025 15:03 UTC+3", va="center", fontsize=17.1, color="#d8d8d8")
ov.text(36, 91, "XAUUSD · Gold Spot / U.S. Dollar · 1h · FX", va="center", fontsize=17.1, color=DARK)
for xp, letter, vx, val in [(521, "O", 539, "3,066.67"), (652, "H", 670, "3,072.92"), (783, "L", 797, "3,066.54"), (912, "C", 930, "3,071.56")]:
    ov.text(xp, 91, letter, va="center", fontsize=17.1, color=DARK)
    ov.text(vx, 91, val, va="center", fontsize=17.1, color="#f0185c")
ov.text(36, 125, "VRVP", va="center", fontsize=17.1, color=DARK)
ov.text(36, 159, "Vol", va="center", fontsize=17.1, color=DARK)

# TradingView mark
ov.add_patch(Rectangle((20, 1514), 13, 6, facecolor="white", edgecolor="none"))
ov.add_patch(Rectangle((26, 1514), 7, 15, facecolor="white", edgecolor="none"))
ov.add_patch(plt.Circle((38, 1517), 3.2, color="white"))
ov.add_patch(Polygon([[44, 1514], [53, 1514], [46, 1529], [37, 1529]], closed=True, facecolor="white", edgecolor="none"))
ov.text(57, 1522, "TradingView", va="center", fontsize=19, color="#e8e8e8", fontweight="medium")

# chart notes
NOTE = "#787b86"
ITAL = ["Roboto", "DejaVu Sans"]
ov.text(157, 868, "Ascending channel", rotation=8.7, rotation_mode="anchor", ha="center", va="center", fontsize=14.5, color=NOTE)
for xp, yp, txt, col, size in [
    (1777, 353, "ath (3168)", NOTE, 13.5), (2521, 506, "ob", NOTE, 13), (2521, 1204, "ob", NOTE, 13),
    (2201, 969, "fvg", NOTE, 14), (2181, 1117, "fvg", NOTE, 14), (2127, 1007, "choch", "#131722", 13.5),
    (1941, 1227, "bos", "#131722", 13), (1723, 1043, "trading range", NOTE, 13.5)]:
    ov.text(xp, yp, txt, ha="center", va="center", fontsize=size, color=col, style="italic", family=ITAL)
ov.text(2543, 837, "resistance", ha="center", va="center", fontsize=14.7, color=NOTE)
ov.text(2577, 1221, "poi", ha="center", va="center", fontsize=15, color=NOTE)
ov.text(2573, 1030, "0.5", ha="center", va="center", fontsize=17, color="#4caf50")
ov.text(2558, 1107, "0.705", ha="center", va="center", fontsize=17, color="#00bcd4")
ov.text(2566, 1139, "0.79", ha="center", va="center", fontsize=17, color="#673ab7")

# RLinda logo
ov.text(2388, 252, "R", ha="center", va="baseline", fontsize=72, family=["Liberation Serif"], fontweight="bold", color="black")
ov.add_patch(Polygon([[2358, 190], [2355, 203], [2350, 212], [2353, 215], [2352, 222], [2357, 225], [2365, 230],
                      [2368, 238], [2370, 253], [2375, 243], [2372, 223], [2368, 213], [2367, 200], [2372, 188], [2382, 182], [2367, 182]],
                     closed=True, facecolor="black", edgecolor="none"))
ov.text(2407, 226, "L", ha="left", va="baseline", fontsize=42, fontweight="bold", color="black")
ov.text(2444, 226, "nda", ha="left", va="baseline", fontsize=42, fontweight="semibold", color="black")
ov.plot([2435, 2435], [180, 226], color="black", lw=1.6)
ov.add_patch(Rectangle((2432.5, 188), 5, 30, facecolor="none", edgecolor="black", lw=1.6))
for xp, ch in [(2352, "T"), (2435, "A"), (2460, "D"), (2485, "I"), (2508, "N"), (2535, "G")]:
    ov.text(xp, 245, ch, ha="center", va="center", fontsize=15, color="black")

# ── USD inset ─────────────────────────────────────────────────────────────────
frame = fig.add_axes(rect(118, 196, 659.5, 496), zorder=6)
frame.set_facecolor("black")
frame.set_xticks([])
frame.set_yticks([])

under = fig.add_axes(rect(121, 199, 657, 492.5), zorder=6.5)
under.set_facecolor("white")
under.set_xticks([])
under.set_yticks([])
for s in under.spines.values():
    s.set_visible(False)

usd_x = np.arange(len(usd_up))
usd_green = np.array(usd_up) == 1
vol_ax = fig.add_axes(rect(121, 199, 657, 492.5), zorder=7)
vol_ax.set_xlim(-7.5, 72.6)
vol_ax.set_ylim(-19.7, 273.6)
vol_ax.axis("off")
vol_ax.bar(usd_x, usd_vol, width=1.0, color=["#aedfae" if u else "#ffc0c0" for u in usd_up], linewidth=0)

inset = fig.add_axes(rect(121, 199, 657, 492.5), zorder=8)
inset.patch.set_alpha(0)
inset.set_xlim(-7.5, 72.6)
inset.set_ylim(99.09, 112.03)
inset.set_xticks([])
inset.set_yticks([])
for s in inset.spines.values():
    s.set_visible(False)

GRID = dict(color="#d0d0d0", lw=1.6 * px, linestyle=(0, (3.5, 3)))
for p in usd_ticks:
    if p > 100:
        inset.plot([-0.5, 64.5], [p, p], zorder=1, **GRID)
    inset.text(65.3, p, f"{p:.2f}", va="center", ha="left", fontsize=11, color="#8f8f8f", zorder=4)
for xp, lab in zip(usd_month_pos, usd_months):
    inset.plot([xp, xp], [100.07, 111.0], zorder=1, **GRID)
    inset.text(xp, 99.54, lab, va="center", ha="center", fontsize=11, color="#8f8f8f")

top = np.array(usd_top)
bot = np.array(usd_bot)
hi = np.array(usd_high)
lo = np.array(usd_low)
inset.vlines(usd_x[usd_green], lo[usd_green], hi[usd_green], color="#006400", lw=1.6 * px, zorder=3)
inset.vlines(usd_x[~usd_green], lo[~usd_green], hi[~usd_green], color="#8b0000", lw=1.6 * px, zorder=3)
inset.bar(usd_x[usd_green], (top - bot)[usd_green], bottom=bot[usd_green], width=0.62, facecolor="#00d800", edgecolor="#006400", linewidth=1.2 * px, zorder=3)
inset.bar(usd_x[~usd_green], (top - bot)[~usd_green], bottom=bot[~usd_green], width=0.62, facecolor="#e00000", edgecolor="#8b0000", linewidth=1.2 * px, zorder=3)

inset.plot([53.2, 72.6], [104.47, 104.47], color="#ff1a1a", lw=3 * px, zorder=4, solid_capstyle="butt")
inset.plot([60.9, 71.7], [103.40, 103.40], color="#ff1a1a", lw=3 * px, zorder=4, solid_capstyle="butt")
inset.plot([59.3, 72.6], [101.03, 101.03], color="#1a6fff", lw=3 * px, zorder=4, solid_capstyle="butt")
inset.add_patch(Rectangle((65, 101.66), 7.6, 0.81, facecolor="#ffff00", edgecolor="none", zorder=4))
inset.text(65.3, 102.06, "102.06", va="center", ha="left", fontsize=11, fontweight="bold", color="black", zorder=5)
inset.text(-6.7, 111.05, "USD", va="center", ha="left", fontsize=27, fontweight="bold", color="#8a8a8a")
inset.text(-4.1, 107.25, "DAILY", rotation=90, va="center", ha="center", fontsize=12.5, fontweight="bold", color="#e0e0e0")

fig.savefig("out.png", dpi=100, facecolor=fig.get_facecolor())
